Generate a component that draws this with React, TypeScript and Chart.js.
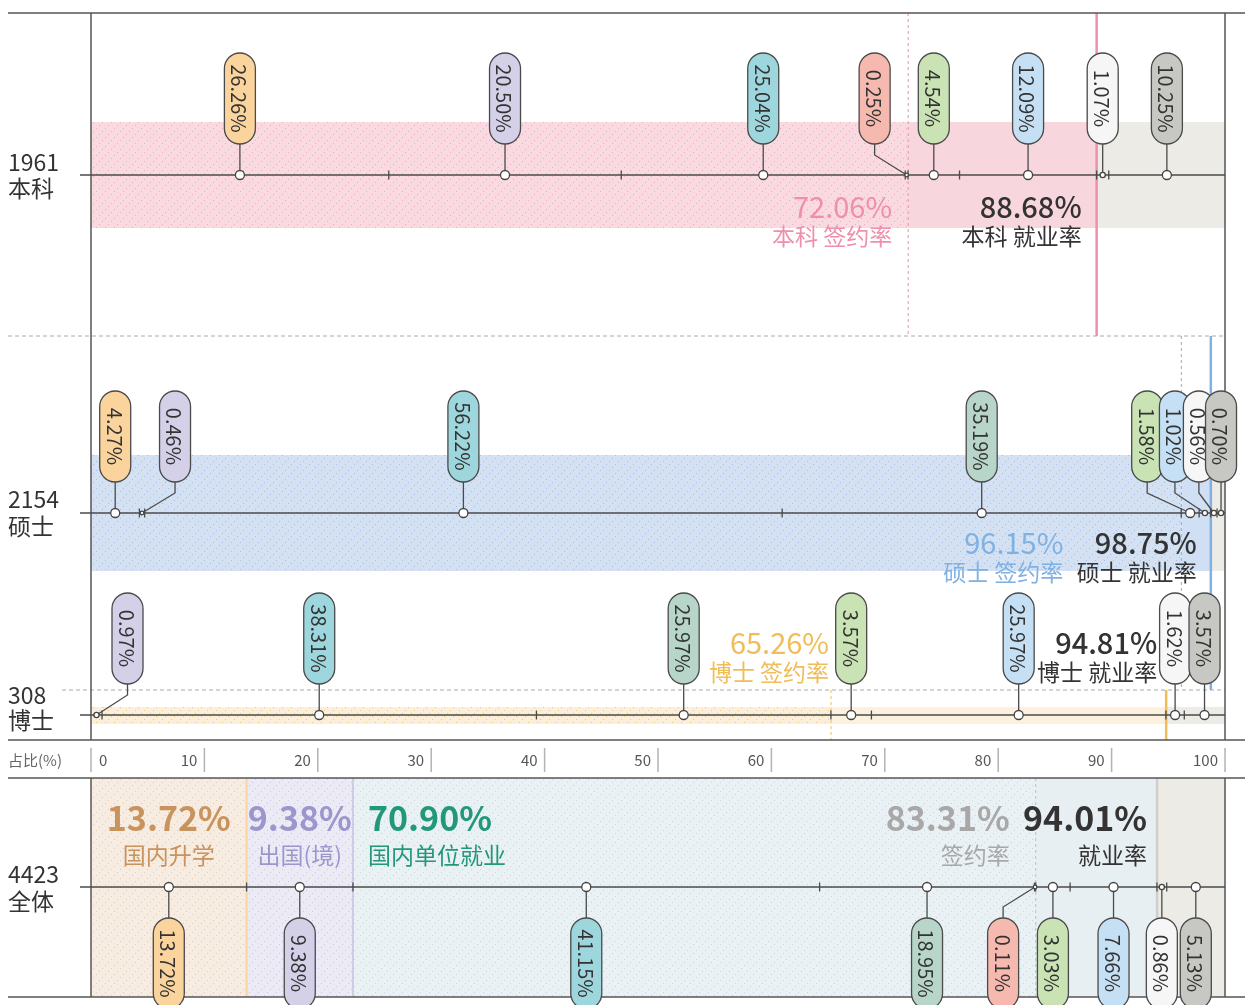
import React, { useEffect, useRef } from 'react';
import { Chart, registerables } from 'chart.js';

Chart.register(...registerables);

// ---------------- data ----------------
const ROW_NAMES = ['本科', '硕士', '博士', '全体'];
const ROW_COUNTS = [1961, 2154, 308, 4423];
// segment order: 国内升学, 出国(境), 签约A, 签约B, 签约C, 就业A, 就业B, 未就业A, 未就业B
const SEGMENT_KEYS = ['国内升学', '出国(境)', '签约A', '签约B', '签约C', '就业A', '就业B', '未就业A', '未就业B'];
const BENKE = [26.26, 20.5, 25.04, 0, 0.25, 4.54, 12.09, 1.07, 10.25];
const SHUOSHI = [4.27, 0.46, 56.22, 35.19, 0, 1.58, 1.02, 0.56, 0.7];
const BOSHI = [0, 0.97, 38.31, 25.97, 0, 3.57, 25.97, 1.62, 3.57];
const QUANTI = [13.72, 9.38, 41.15, 18.95, 0.11, 3.03, 7.66, 0.86, 5.13];
const ROW_VALUES = [BENKE, SHUOSHI, BOSHI, QUANTI];
const SIGN_RATES = [72.06, 96.15, 65.26, 83.31];
const EMP_RATES = [88.68, 98.75, 94.81, 94.01];
const X_TICKS = [0, 10, 20, 30, 40, 50, 60, 70, 80, 90, 100];
const OVERALL_GROUP_LABELS = ['国内升学', '出国(境)', '国内单位就业'];
const OVERALL_GROUP_VALUES = [13.72, 9.38, 70.9];
const AXIS_TITLE = '占比(%)';

// ---------------- layout & style ----------------
const W = 1245;
const H = 1005;
const ROW_Y = [175, 513, 715, 887];
const BAND_SPAN = [[122, 228], [455, 571], [707, 724], [778, 997]];
const LINE_SPAN = [[13, 336], [336, 690], [690, 740], [778, 997]];
const PILL_DIR = [-1, -1, -1, 1];
const PILL_NUDGE = [
  [0, 0, 0, 0, -32, 0, 0, 0, 0],
  [0, 33, 0, 0, 0, -43, -30, -15, 0],
  [0, 31, 0, 0, 0, 0, 0, 0, 0],
  [0, 0, 0, 0, -32, 0, 0, 0, 0],
];
const PILL_W = 31;
const PILL_LEN = 91;
const PILL_GAP = 31;
const RATE_TEXT_Y = [[207, 236], [543, 572], [643, 672], [818, 855]];
const SIGN_TEXT_DX = [-16, -118, -2, -26];
const EMP_TEXT_DX = [-15, -14, -9, -10];
const LABEL_DY = [[-13, 13], [-14, 13], [-20, 5], [-13, 14]];

const FONT = '"Noto Sans CJK SC", "Noto Sans", sans-serif';
const SEG_FILL = ['#fad49c', '#d3d0e8', '#9dd7dd', '#b7d5c8', '#f6b9b0', '#c9e3b5', '#c5e0f5', '#f6f6f6', '#c7c7c3'];
const ROW_THEME = ['#ef8fab', '#80b1e3', '#f0bd58', '#a8a8a8'];
const BAND_STYLE = [
  { base: '#f9dae1', dot: '#f2a9be', solid: '#f8d6de' },
  { base: '#d3e1f3', dot: '#a3c0e8', solid: '#d0dff3' },
  { base: '#fcefd9', dot: '#f5c77c', solid: '#fcf1de' },
];
const GRAY_FILL = '#ecebe6';
const OVERALL_STYLE = {
  orange: { base: '#f7ece1', dot: '#e3cbb0', line: '#f7d4a2', text: '#c9935d' },
  lav: { base: '#ecebf5', dot: '#c9c5e2', line: '#cfcbe7', text: '#9b97cd' },
  teal: { base: '#eaf1f4', dot: '#c6d5dc', plain: '#e8eff2', text: '#22987a' },
  grayLine: '#cfcfca',
};
const DARK = '#333';
const LINE = '#4a4a4a';

function makePattern(ctx: CanvasRenderingContext2D, base: string, dot: string) {
  const n = 9;
  const c = document.createElement('canvas');
  c.width = n;
  c.height = n;
  const g = c.getContext('2d')!;
  g.fillStyle = base;
  g.fillRect(0, 0, n, n);
  g.fillStyle = dot;
  for (let i = 0; i < n; i += 3) g.fillRect(i, n - 1 - i, 1, 1);
  return ctx.createPattern(c, 'repeat')!;
}

function markerRadius(v: number) {
  if (v >= 1.5) return 4.5;
  if (v >= 0.5) return 2.6;
  return 1.8;
}

function pillPath(ctx: CanvasRenderingContext2D, cx: number, top: number, bottom: number, w: number) {
  const r = w / 2;
  ctx.beginPath();
  ctx.moveTo(cx - r, top + r);
  ctx.arc(cx, top + r, r, Math.PI, 0);
  ctx.lineTo(cx + r, bottom - r);
  ctx.arc(cx, bottom - r, r, 0, Math.PI);
  ctx.closePath();
}

function hLine(ctx: CanvasRenderingContext2D, x1: number, x2: number, y: number, color: string, lw: number, dash: number[] = []) {
  ctx.save();
  ctx.strokeStyle = color;
  ctx.lineWidth = lw;
  ctx.setLineDash(dash);
  ctx.beginPath();
  ctx.moveTo(x1, y);
  ctx.lineTo(x2, y);
  ctx.stroke();
  ctx.restore();
}

function vLine(ctx: CanvasRenderingContext2D, x: number, y1: number, y2: number, color: string, lw: number, dash: number[] = []) {
  ctx.save();
  ctx.strokeStyle = color;
  ctx.lineWidth = lw;
  ctx.setLineDash(dash);
  ctx.beginPath();
  ctx.moveTo(x, y1);
  ctx.lineTo(x, y2);
  ctx.stroke();
  ctx.restore();
}

const infographic = {
  id: 'infographic',
  beforeDatasetsDraw(chart: any) {
    const ctx: CanvasRenderingContext2D = chart.ctx;
    const X = (v: number) => chart.scales.x.getPixelForValue(v);
    const Y = (v: number) => chart.scales.y.getPixelForValue(v);
    const x0 = X(0);
    const x100 = X(100);
    ctx.save();

    // bands rows 0..2
    for (let r = 0; r < 3; r++) {
      const t = Y(BAND_SPAN[r][0]);
      const b = Y(BAND_SPAN[r][1]);
      const st = BAND_STYLE[r];
      const xs = X(SIGN_RATES[r]);
      const xe = X(EMP_RATES[r]);
      ctx.fillStyle = makePattern(ctx, st.base, st.dot);
      ctx.fillRect(x0, t, xs - x0, b - t);
      ctx.fillStyle = st.solid;
      ctx.fillRect(xs, t, xe - xs, b - t);
      ctx.fillStyle = GRAY_FILL;
      ctx.fillRect(xe, t, x100 - xe, b - t);
    }

    // overall backgrounds
    {
      const t = Y(BAND_SPAN[3][0]);
      const b = Y(BAND_SPAN[3][1]);
      const g1 = OVERALL_GROUP_VALUES[0];
      const g2 = g1 + OVERALL_GROUP_VALUES[1];
      const s = SIGN_RATES[3];
      const e = EMP_RATES[3];
      const zones: [number, number, any][] = [
        [0, g1, makePattern(ctx, OVERALL_STYLE.orange.base, OVERALL_STYLE.orange.dot)],
        [g1, g2, makePattern(ctx, OVERALL_STYLE.lav.base, OVERALL_STYLE.lav.dot)],
        [g2, s, makePattern(ctx, OVERALL_STYLE.teal.base, OVERALL_STYLE.teal.dot)],
        [s, e, OVERALL_STYLE.teal.plain],
        [e, 100, GRAY_FILL],
      ];
      zones.forEach(([a, c, fill]) => {
        ctx.fillStyle = fill;
        ctx.fillRect(X(a), t, X(c) - X(a), b - t);
      });
      vLine(ctx, X(g1), t, b, OVERALL_STYLE.orange.line, 2);
      vLine(ctx, X(g2), t, b, OVERALL_STYLE.lav.line, 2);
      vLine(ctx, X(s), t, b, '#bdbdbd', 1, [3, 3]);
      vLine(ctx, X(e), t, b, OVERALL_STYLE.grayLine, 2.5);
    }

    // rate lines rows 0..2
    for (let r = 0; r < 3; r++) {
      const [a, c] = LINE_SPAN[r];
      vLine(ctx, X(SIGN_RATES[r]), Y(a), Y(c), ROW_THEME[r], 1, [3, 3]);
      vLine(ctx, X(EMP_RATES[r]), Y(a), Y(c), ROW_THEME[r], 2.5);
    }

    // frame
    hLine(ctx, 8, W, Y(13), '#555', 1.5);
    hLine(ctx, 8, x100, Y(336), '#aaa', 1, [4, 3]);
    hLine(ctx, 62, x100, Y(690), '#aaa', 1, [4, 3]);
    hLine(ctx, 8, W, Y(740), '#555', 1.5);
    hLine(ctx, 8, W, Y(778), '#555', 1.5);
    hLine(ctx, 8, W, Y(997), '#555', 1.5);
    vLine(ctx, x0, Y(13), Y(740), '#555', 1.5);
    vLine(ctx, x0, Y(778), Y(997), '#555', 1.5);
    vLine(ctx, x100, Y(13), Y(740), '#555', 1.5);
    vLine(ctx, x100, Y(778), Y(997), '#555', 1.5);

    // axis ticks band
    ctx.font = `15px ${FONT}`;
    ctx.textBaseline = 'middle';
    ctx.fillStyle = '#666';
    ctx.textAlign = 'left';
    ctx.fillText(AXIS_TITLE, 8, Y(760));
    X_TICKS.forEach((t) => {
      const x = X(t);
      vLine(ctx, x, Y(748), Y(772), '#b3b3b3', 1.5);
      ctx.fillStyle = '#555';
      if (t === 0) {
        ctx.textAlign = 'left';
        ctx.fillText(String(t), x + 8, Y(760));
      } else {
        ctx.textAlign = 'right';
        ctx.fillText(String(t), x - 7, Y(760));
      }
    });

    // baselines + boundary ticks
    ROW_VALUES.forEach((vals, r) => {
      const y = Y(ROW_Y[r]);
      hLine(ctx, 80, x100, y, LINE, 1.5);
      let cum = 0;
      vals.forEach((v) => {
        if (v <= 0) return;
        cum += v;
        if (cum < 99.9) vLine(ctx, X(cum), y - 4.5, y + 4.5, LINE, 1.3);
      });
    });

    // stems + pills
    ROW_VALUES.forEach((vals, r) => {
      const y = Y(ROW_Y[r]);
      const dir = PILL_DIR[r];
      let cum = 0;
      vals.forEach((v, i) => {
        if (v <= 0) {
          return;
        }
        const mid = cum + v / 2;
        cum += v;
        const pxp = X(mid);
        const pillX = pxp + PILL_NUDGE[r][i];
        const near = y + dir * PILL_GAP;
        const far = near + dir * PILL_LEN;
        ctx.save();
        ctx.strokeStyle = LINE;
        ctx.lineWidth = 1.3;
        ctx.beginPath();
        ctx.moveTo(pillX, near);
        if (PILL_NUDGE[r][i] !== 0) {
          const kink = near - dir * 11;
          ctx.lineTo(pillX, kink);
        }
        ctx.lineTo(pxp, y);
        ctx.stroke();
        ctx.restore();
        const top = Math.min(near, far);
        const bottom = Math.max(near, far);
        pillPath(ctx, pillX, top, bottom, PILL_W);
        ctx.fillStyle = SEG_FILL[i];
        ctx.fill();
        ctx.strokeStyle = LINE;
        ctx.lineWidth = 1.3;
        ctx.stroke();
        ctx.save();
        ctx.translate(pillX, (top + bottom) / 2);
        ctx.rotate(Math.PI / 2);
        ctx.fillStyle = DARK;
        ctx.font = `20px ${FONT}`;
        ctx.textAlign = 'center';
        ctx.textBaseline = 'middle';
        ctx.fillText(v.toFixed(2) + '%', 0, 1);
        ctx.restore();
      });
    });
    ctx.restore();
  },
  afterDatasetsDraw(chart: any) {
    const ctx: CanvasRenderingContext2D = chart.ctx;
    const X = (v: number) => chart.scales.x.getPixelForValue(v);
    const Y = (v: number) => chart.scales.y.getPixelForValue(v);
    ctx.save();
    ctx.textBaseline = 'middle';

    ROW_NAMES.forEach((name, r) => {
      ctx.fillStyle = DARK;
      ctx.textAlign = 'left';
      ctx.font = `23px ${FONT}`;
      ctx.fillText(String(ROW_COUNTS[r]), 8, Y(ROW_Y[r] + LABEL_DY[r][0]));
      ctx.fillText(name, 8, Y(ROW_Y[r] + LABEL_DY[r][1]));
    });

    for (let r = 0; r < 4; r++) {
      const big = r === 3 ? `bold 34px ${FONT}` : `29px ${FONT}`;
      const bigEmp = r === 3 ? `bold 34px ${FONT}` : `500 29px ${FONT}`;
      const sub = `23px ${FONT}`;
      const prefix = r === 3 ? '' : ROW_NAMES[r] + ' ';
      const sx = X(SIGN_RATES[r]) + SIGN_TEXT_DX[r];
      const ex = X(EMP_RATES[r]) + EMP_TEXT_DX[r];
      ctx.textAlign = 'right';
      ctx.fillStyle = ROW_THEME[r];
      ctx.font = big;
      ctx.fillText(SIGN_RATES[r].toFixed(2) + '%', sx, Y(RATE_TEXT_Y[r][0]));
      ctx.font = sub;
      ctx.fillText(prefix + '签约率', sx, Y(RATE_TEXT_Y[r][1]));
      ctx.fillStyle = DARK;
      ctx.font = bigEmp;
      ctx.fillText(EMP_RATES[r].toFixed(2) + '%', ex, Y(RATE_TEXT_Y[r][0]));
      ctx.font = sub;
      ctx.fillText(prefix + '就业率', ex, Y(RATE_TEXT_Y[r][1]));
    }

    const g1 = OVERALL_GROUP_VALUES[0];
    const g2 = g1 + OVERALL_GROUP_VALUES[1];
    const groupColors = [OVERALL_STYLE.orange.text, OVERALL_STYLE.lav.text, OVERALL_STYLE.teal.text];
    const anchors = [
      { x: X(g1 / 2), align: 'center' },
      { x: X((g1 + g2) / 2), align: 'center' },
      { x: X(g2) + 15, align: 'left' },
    ];
    OVERALL_GROUP_LABELS.forEach((label, i) => {
      ctx.fillStyle = groupColors[i];
      ctx.textAlign = anchors[i].align as CanvasTextAlign;
      ctx.font = `bold 34px ${FONT}`;
      ctx.fillText(OVERALL_GROUP_VALUES[i].toFixed(2) + '%', anchors[i].x, Y(RATE_TEXT_Y[3][0]));
      ctx.font = `23px ${FONT}`;
      ctx.fillText(label, anchors[i].x, Y(RATE_TEXT_Y[3][1]));
    });
    ctx.restore();
  },
};

export default function App() {
  const ref = useRef<HTMLCanvasElement>(null);
  useEffect(() => {
    const canvas = ref.current!;
    const datasets = ROW_VALUES.map((vals, r) => {
      const pts: { x: number; y: number; r: number }[] = [];
      let cum = 0;
      vals.forEach((v) => {
        if (v > 0) pts.push({ x: cum + v / 2, y: ROW_Y[r], r: markerRadius(v) });
        cum += v;
      });
      return {
        type: 'scatter' as const,
        label: ROW_NAMES[r],
        data: pts,
        pointRadius: (c: any) => (c.raw ? c.raw.r : 3),
        pointHoverRadius: (c: any) => (c.raw ? c.raw.r : 3),
        pointBackgroundColor: '#ffffff',
        pointBorderColor: '#444444',
        pointBorderWidth: 1.3,
        clip: false as any,
      };
    });
    const chart = new Chart(canvas, {
      type: 'scatter',
      data: { datasets: datasets as any },
      options: {
        responsive: false,
        animation: false,
        events: [],
        layout: { autoPadding: false, padding: { left: 91, right: 20, top: 0, bottom: 0 } },
        plugins: { legend: { display: false }, tooltip: { enabled: false } },
        scales: {
          x: { type: 'linear', min: 0, max: 100, display: false },
          y: { type: 'linear', min: 0, max: H, reverse: true, display: false },
        },
      },
      plugins: [infographic as any],
    });
    return () => chart.destroy();
  }, []);
  return (
    <div style={{ position: 'fixed', left: 0, top: 0, width: W, height: H, background: '#fff', overflow: 'hidden' }}>
      <canvas ref={ref} width={W} height={H} style={{ display: 'block', width: W, height: H }} />
    </div>
  );
}
